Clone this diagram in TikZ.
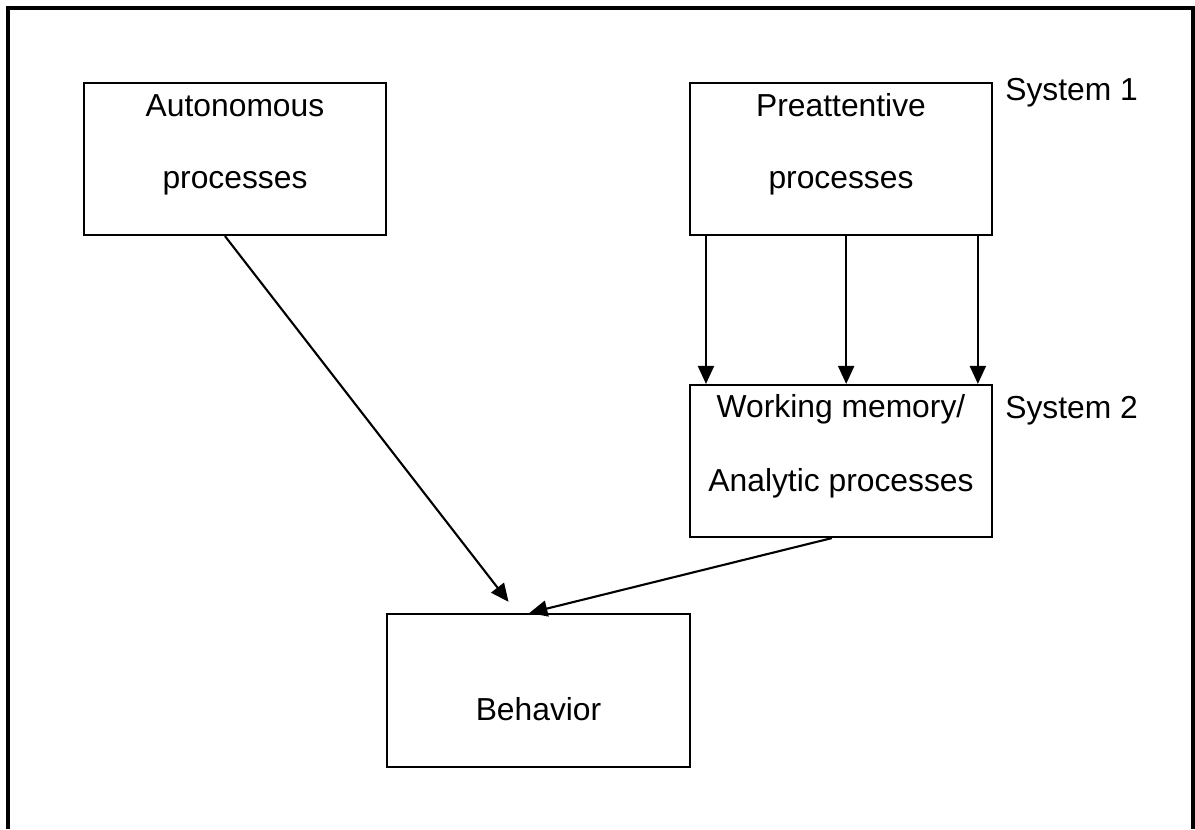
\documentclass[tikz,border=0pt]{standalone}
\usepackage{fontspec}
\setmainfont{Liberation Sans}
\usepackage{tikz}
\usetikzlibrary{arrows.meta,calc,positioning}

\begin{document}
\begin{tikzpicture}[x=0.02cm,y=-0.02cm,line cap=butt,
  procbox/.style={draw,line width=1.25pt,inner sep=0pt,minimum width=6.04cm,minimum height=3.04cm},
  proctext/.style={anchor=base,inner sep=0pt,font=\fontsize{18.1}{20}\selectfont},
  flow/.style={line width=1.2pt,-{Triangle[length=0.36cm,width=0.32cm]}}]
 \useasboundingbox (0,0) rectangle (1195,829);
 % open frame round the whole figure
 \draw[line width=1.8pt] (8,829)--(8,8)--(1193,8)--(1193,829);
 % the four boxes
 \node[procbox] (auto) at (235,159) {};
 \node[procbox] (pre) at (841,159) {};
 \node[procbox] (wm) at (841,461) {};
 \node[procbox,minimum width=6.06cm,minimum height=3.06cm] (beh) at (538.5,690.5) {};
 % box texts
 \node[proctext] (autoa) at (235,116) {Autonomous};
 \node[proctext] (autob) at (235,188) {processes};
 \node[proctext] (prea) at (841,116) {Preattentive};
 \node[proctext] (preb) at (841,188) {processes};
 \node[proctext] (wma) at (841,417) {Working memory/};
 \node[proctext] (wmb) at (841,491) {Analytic processes};
 \node[proctext] (beha) at (538.5,720) {Behavior};
 \node[proctext,anchor=base west] (sysone) at (1005,100) {System 1};
 \node[proctext,anchor=base west] (systwo) at (1005,418) {System 2};
 % arrows
 \foreach \f in {0.056,0.517,0.95}
  \draw[flow] ($(pre.south west)!\f!(pre.south east)$)
   -- ($(wm.north west)!\f!(wm.north east)$);
 \draw[flow,shorten >=8pt] ($(auto.south west)!0.467!(auto.south east)$)
  -- ($(beh.north west)!0.43!(beh.north east)$);
 \draw[flow] ($(wm.south west)!0.47!(wm.south east)$)
  -- ($(beh.north west)!0.47!(beh.north east)$);
\end{tikzpicture}
\end{document}
